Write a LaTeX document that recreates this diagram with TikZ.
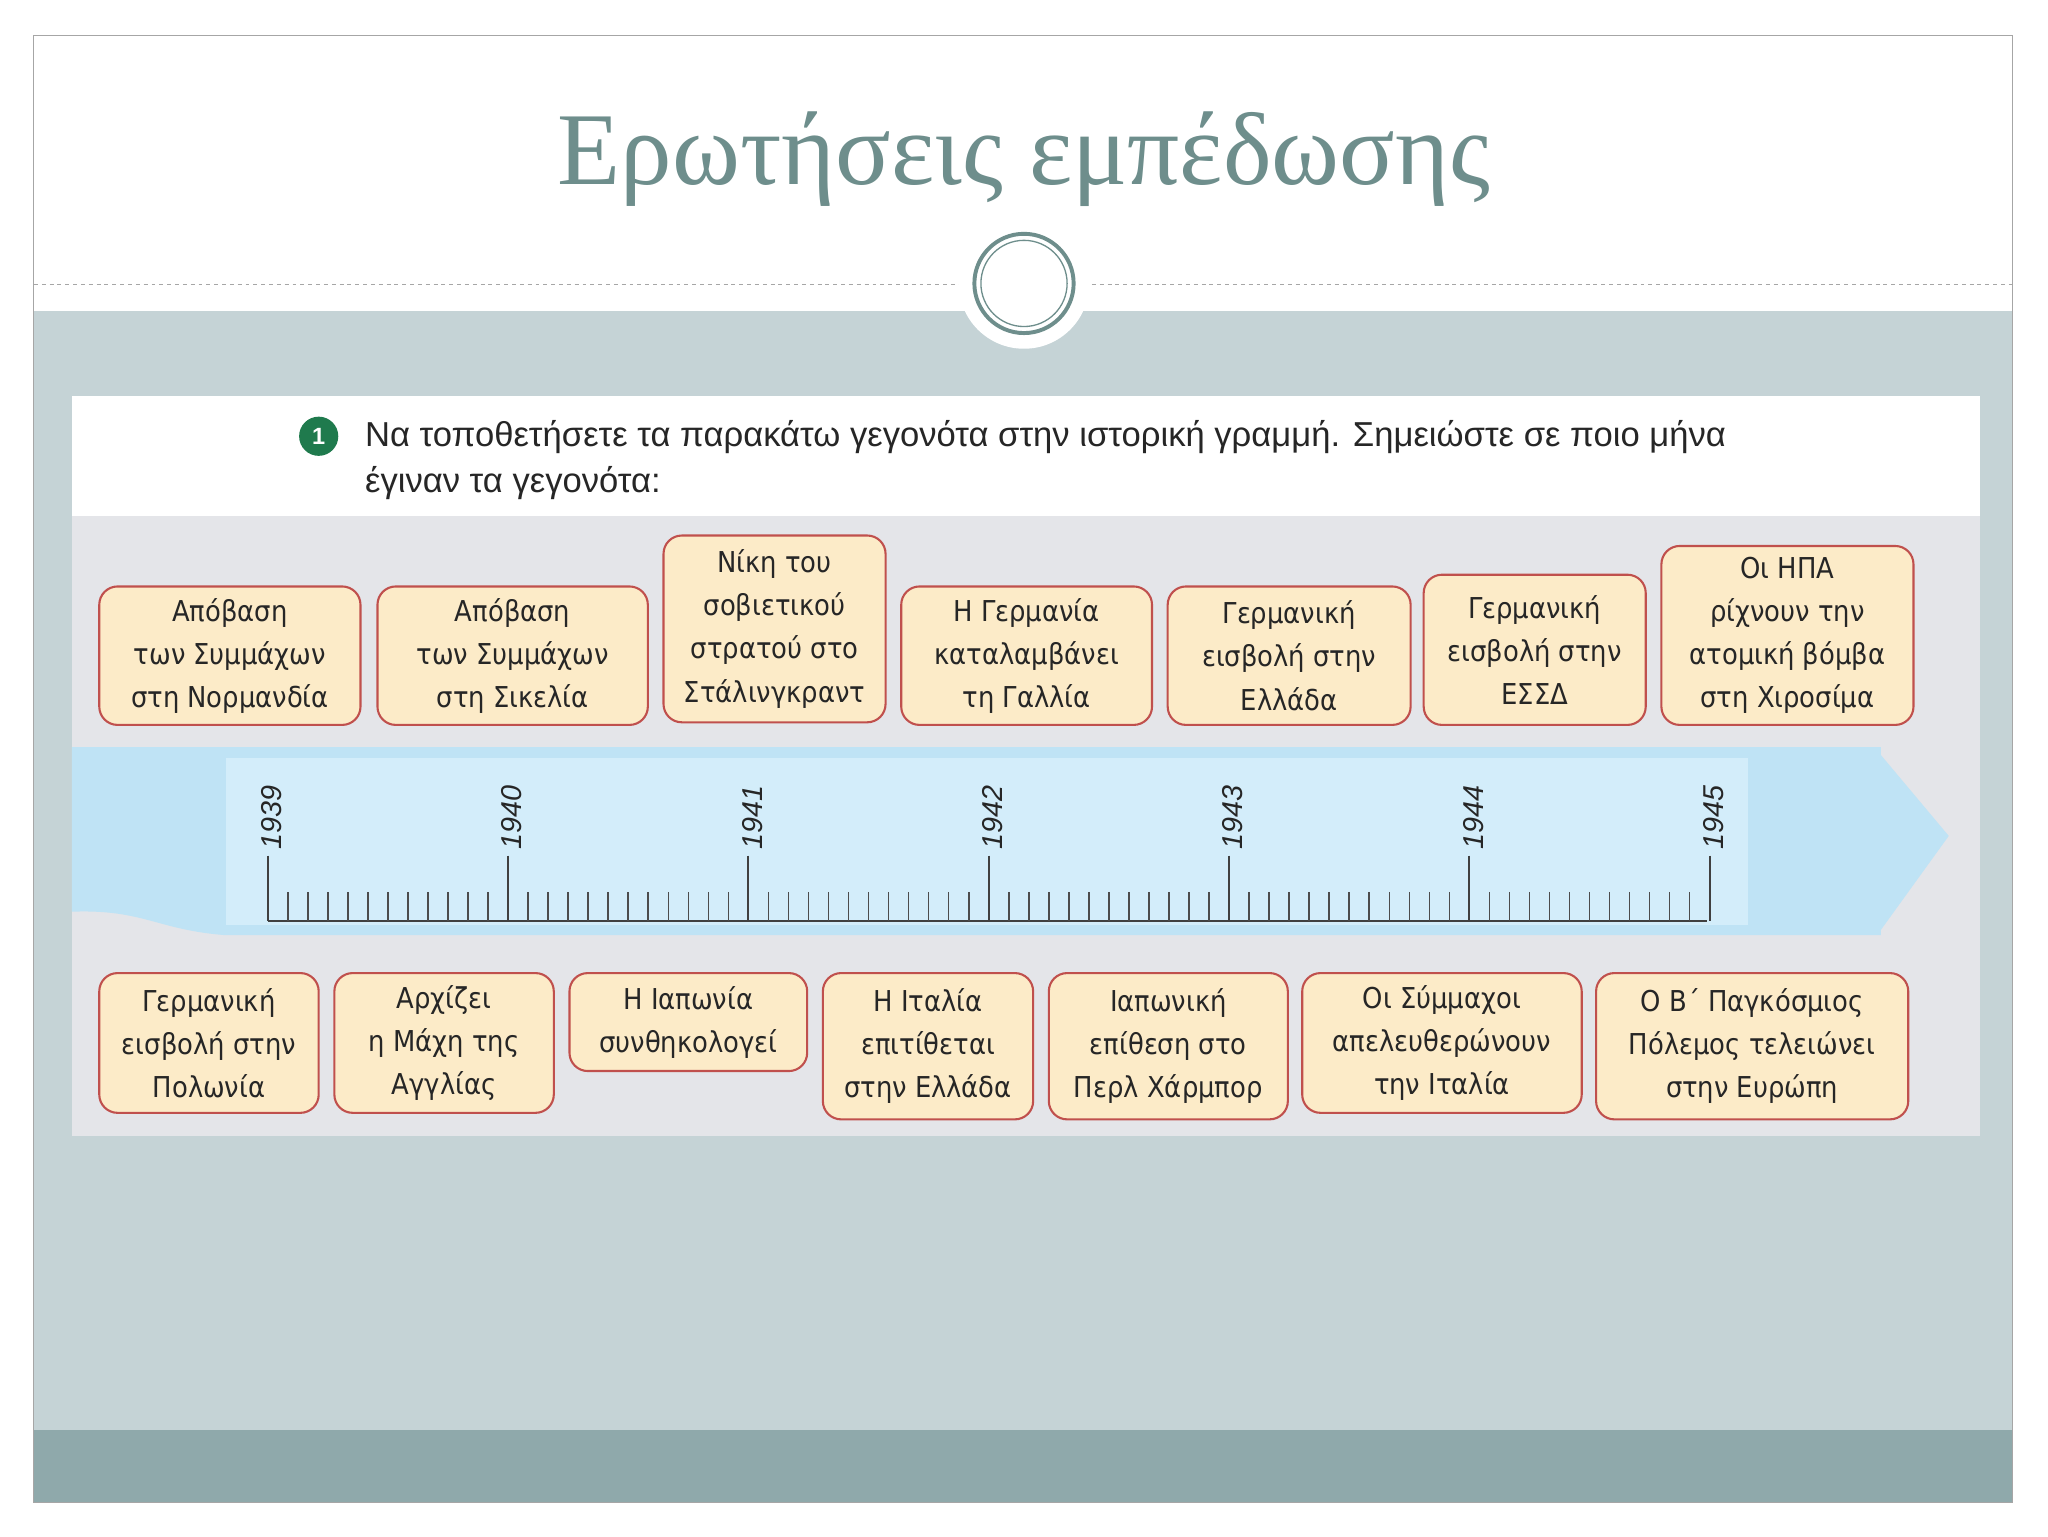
\documentclass[tikz,border=0pt]{standalone}
\usepackage{fontspec}
\setmainfont{Liberation Serif}
\newfontfamily\qfont{Liberation Sans}
\newfontfamily\bfont{DejaVu Sans Condensed}
\definecolor{titlec}{HTML}{6E8E8C}
\definecolor{bgc}{HTML}{C5D3D6}
\definecolor{bandc}{HTML}{8FA9AB}
\definecolor{panelg}{HTML}{E4E5E9}
\definecolor{tlc}{HTML}{BFE3F5}
\definecolor{tlc2}{HTML}{D3EDFA}
\definecolor{boxf}{HTML}{FCEBC8}
\definecolor{boxd}{HTML}{C0504D}
\definecolor{greenc}{HTML}{1F7A4D}
\tikzset{evbox/.style={draw=boxd,line width=1.6pt,fill=boxf,rounded corners=14pt,align=center,font=\bfont\fontsize{22}{33}\selectfont,text=black!85,inner sep=0pt}}
\newcommand{\evnode}[6]{\node[evbox,minimum width=#4pt-#2pt,minimum height=#5pt-#3pt] (#1) at ({(#2+#4)/2},{(#3+#5)/2}) {#6};}
\begin{document}
\begin{tikzpicture}[x=1pt,y=-1pt]
\useasboundingbox (0,0) rectangle (1568,1176);
\fill[white] (0,0) rectangle (1568,1176);
\fill[bgc] (26,238) rectangle (1541,1095);
\fill[bandc] (26,1095) rectangle (1541,1150);
\draw[gray!70,line width=0.8pt] (26,27) rectangle (1541,1150);
\draw[gray!70,dashed,line width=0.8pt] (26,218) -- (1541,218);
\node[circle,fill=white,minimum size=100pt] (cw) at (784,217) {};
\node[circle,draw=titlec,line width=3pt,minimum size=76pt] (cr) at (784,217) {};
\node[circle,draw=titlec,line width=1pt,minimum size=66pt] (cr2) at (784,217) {};
\node[text=titlec,font=\fontsize{79}{86}\selectfont] (title) at (784,122) {Ερωτήσεις εμπέδωσης};
% panel
\fill[white] (55,303) rectangle (1516,870);
\fill[panelg] (55,395) rectangle (1516,870);
\node[circle,fill=greenc,text=white,font=\qfont\bfseries\fontsize{18}{20}\selectfont,minimum size=30pt,inner sep=0pt] (one) at (244,334) {1};
\node[anchor=west,align=left,font=\qfont\fontsize{26.5}{35}\selectfont,text=black!85] (q) at (276,352) {Να τοποθετήσετε τα παρακάτω γεγονότα στην ιστορική γραμμή. Σημειώστε σε ποιο μήνα\\έγιναν τα γεγονότα:};
% timeline band
\fill[tlc] (55,572) -- (1440,572) -- (1440,578) -- (1492,640) -- (1440,712) -- (1440,716) -- (173,716) .. controls (120,712) and (110,696) .. (55,698) -- cycle;
\fill[tlc2] (173,580) rectangle (1338,708);
\draw[black!75,line width=1.5pt] (205,705) -- (1307,705);
\foreach \i [count=\k from 0] in {1939,...,1945} {
  \pgfmathsetmacro{\xx}{205+184*\k}
  \draw[black!75,line width=1.5pt] (\xx,655) -- (\xx,705);
  \node[rotate=90,anchor=east,font=\qfont\fontsize{22}{24}\selectfont\itshape,text=black!85] (y\i) at (\xx+3,598) {\i};
}
\foreach \m in {0,...,5} {
  \foreach \j in {1,...,11} {
    \pgfmathsetmacro{\xx}{205+184*\m+184/12*\j}
    \draw[black!70,line width=1.2pt] (\xx,683) -- (\xx,705);
  }
}
% top boxes
\evnode{t1}{76}{449}{276}{555}{Απόβαση\\των Συμμάχων\\στη Νορμανδία}
\evnode{t2}{289}{449}{496}{555}{Απόβαση\\των Συμμάχων\\στη Σικελία}
\evnode{t3}{508}{410}{678}{553}{Νίκη του\\σοβιετικού\\στρατού στο\\Στάλινγκραντ}
\evnode{t4}{690}{449}{882}{555}{Η Γερμανία\\καταλαμβάνει\\τη Γαλλία}
\evnode{t5}{894}{449}{1080}{555}{Γερμανική\\εισβολή στην\\Ελλάδα}
\evnode{t6}{1090}{440}{1260}{555}{Γερμανική\\εισβολή στην\\ΕΣΣΔ}
\evnode{t7}{1272}{418}{1465}{555}{Οι ΗΠΑ\\ρίχνουν την\\ατομική βόμβα\\στη Χιροσίμα}
% bottom boxes
\evnode{b1}{76}{745}{244}{852}{Γερμανική\\εισβολή στην\\Πολωνία}
\evnode{b2}{256}{745}{424}{852}{Αρχίζει\\η Μάχη της\\Αγγλίας}
\evnode{b3}{436}{745}{618}{820}{Η Ιαπωνία\\συνθηκολογεί}
\evnode{b4}{630}{745}{791}{857}{Η Ιταλία\\επιτίθεται\\στην Ελλάδα}
\evnode{b5}{803}{745}{986}{857}{Ιαπωνική\\επίθεση στο\\Περλ Χάρμπορ}
\evnode{b6}{997}{745}{1211}{852}{Οι Σύμμαχοι\\απελευθερώνουν\\την Ιταλία}
\evnode{b7}{1222}{745}{1461}{857}{Ο Β΄ Παγκόσμιος\\Πόλεμος τελειώνει\\στην Ευρώπη}
\end{tikzpicture}
\end{document}
